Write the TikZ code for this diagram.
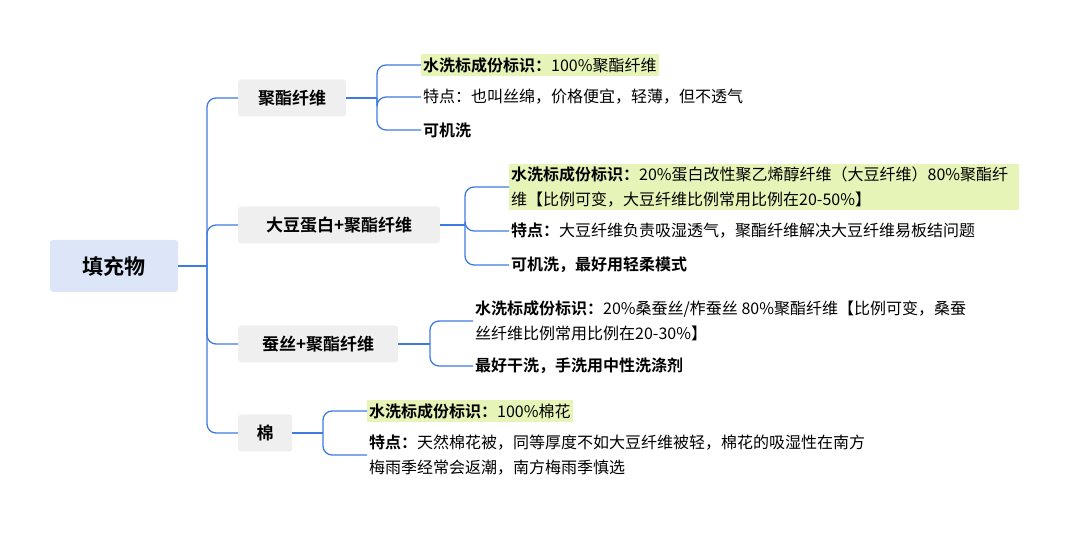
\documentclass[tikz,border=0pt]{standalone}
\usepackage{fontspec}
\setmainfont{Noto Sans CJK SC}[BoldFont={Noto Sans CJK SC Bold}]
\definecolor{linkblue}{HTML}{3D7BE0}
\definecolor{rootfill}{HTML}{DCE6F8}
\definecolor{topicfill}{HTML}{EFEFEF}
\definecolor{markfill}{HTML}{E6F4B8}
\begin{document}
\begin{tikzpicture}[
			x=1pt, y=-1pt,
			% Define styles for nodes
			rootbox/.style={fill=rootfill, rounded corners=3pt, minimum width=128pt, minimum height=52pt, font=\fontsize{21}{24}\selectfont\bfseries},
			topicbox/.style={fill=topicfill, rounded corners=3pt, anchor=west, minimum height=37pt, inner xsep=0pt, font=\fontsize{17}{20}\selectfont\bfseries},
			leaf/.style={anchor=west, align=left, inner xsep=2pt, inner ysep=3pt, font=\fontsize{16}{25}\selectfont},
			marked/.style={leaf, fill=markfill},
			link/.style={draw=linkblue, line width=1.3pt, rounded corners=9pt}
		]
		\useasboundingbox (0,0) rectangle (1080,534);

		% Root node
		\node[rootbox] (root) at (114,266) {填充物};

		% Topics
		\node[topicbox, minimum width=108pt] (polyester) at (238,98) {聚酯纤维};
		\node[topicbox, minimum width=202pt] (soy) at (238,225) {大豆蛋白+聚酯纤维};
		\node[topicbox, minimum width=160pt] (silk) at (238,344) {蚕丝+聚酯纤维};
		\node[topicbox, minimum width=54pt] (cotton) at (238,433) {棉};

		% Leaves of polyester
		\node[marked] (p1) at (421,65) {\textbf{水洗标成份标识：}100\%聚酯纤维};
		\node[leaf] (p2) at (421,97) {特点：也叫丝绵，价格便宜，轻薄，但不透气};
		\node[leaf] (p3) at (421,130) {\textbf{可机洗}};

		% Leaves of soy
		\node[marked, text width=506pt] (s1) at (509,187) {\textbf{水洗标成份标识：}20\%蛋白改性聚乙烯醇纤维（大豆纤维）80\%聚酯纤\\维【比例可变，大豆纤维比例常用比例在20-50\%】};
		\node[leaf] (s2) at (509,231) {\textbf{特点：}大豆纤维负责吸湿透气，聚酯纤维解决大豆纤维易板结问题};
		\node[leaf] (s3) at (509,265) {\textbf{可机洗，最好用轻柔模式}};

		% Leaves of silk
		\node[leaf] (k1) at (473,321) {\textbf{水洗标成份标识：}20\%桑蚕丝/柞蚕丝 80\%聚酯纤维【比例可变，桑蚕\\丝纤维比例常用比例在20-30\%】};
		\node[leaf] (k2) at (473,366) {\textbf{最好干洗，手洗用中性洗涤剂}};

		% Leaves of cotton
		\node[marked] (c1) at (367,411) {\textbf{水洗标成份标识：}100\%棉花};
		\node[leaf] (c2) at (367,455) {\textbf{特点：}天然棉花被，同等厚度不如大豆纤维被轻，棉花的吸湿性在南方\\梅雨季经常会返潮，南方梅雨季慎选};

		% Connectors
		\coordinate (hub) at (207,266);
		\draw[link, rounded corners=0pt] (root.east) -- (hub);
		\foreach \t in {polyester,soy,silk,cotton}
			\draw[link] (hub) |- (\t.west);

		\coordinate (phub) at (377,98);
		\draw[link, rounded corners=0pt] (polyester.east) -- (phub);
		\foreach \l in {p1,p2,p3} \draw[link] (phub) |- (\l.west);

		\coordinate (shub) at (465,225);
		\draw[link, rounded corners=0pt] (soy.east) -- (shub);
		\foreach \l in {s1,s2,s3} \draw[link] (shub) |- (\l.west);

		\coordinate (khub) at (430,344);
		\draw[link, rounded corners=0pt] (silk.east) -- (khub);
		\foreach \l in {k1,k2} \draw[link] (khub) |- (\l.west);

		\coordinate (chub) at (323,433);
		\draw[link, rounded corners=0pt] (cotton.east) -- (chub);
		\foreach \l in {c1,c2} \draw[link] (chub) |- (\l.west);
	\end{tikzpicture}
\end{document}
